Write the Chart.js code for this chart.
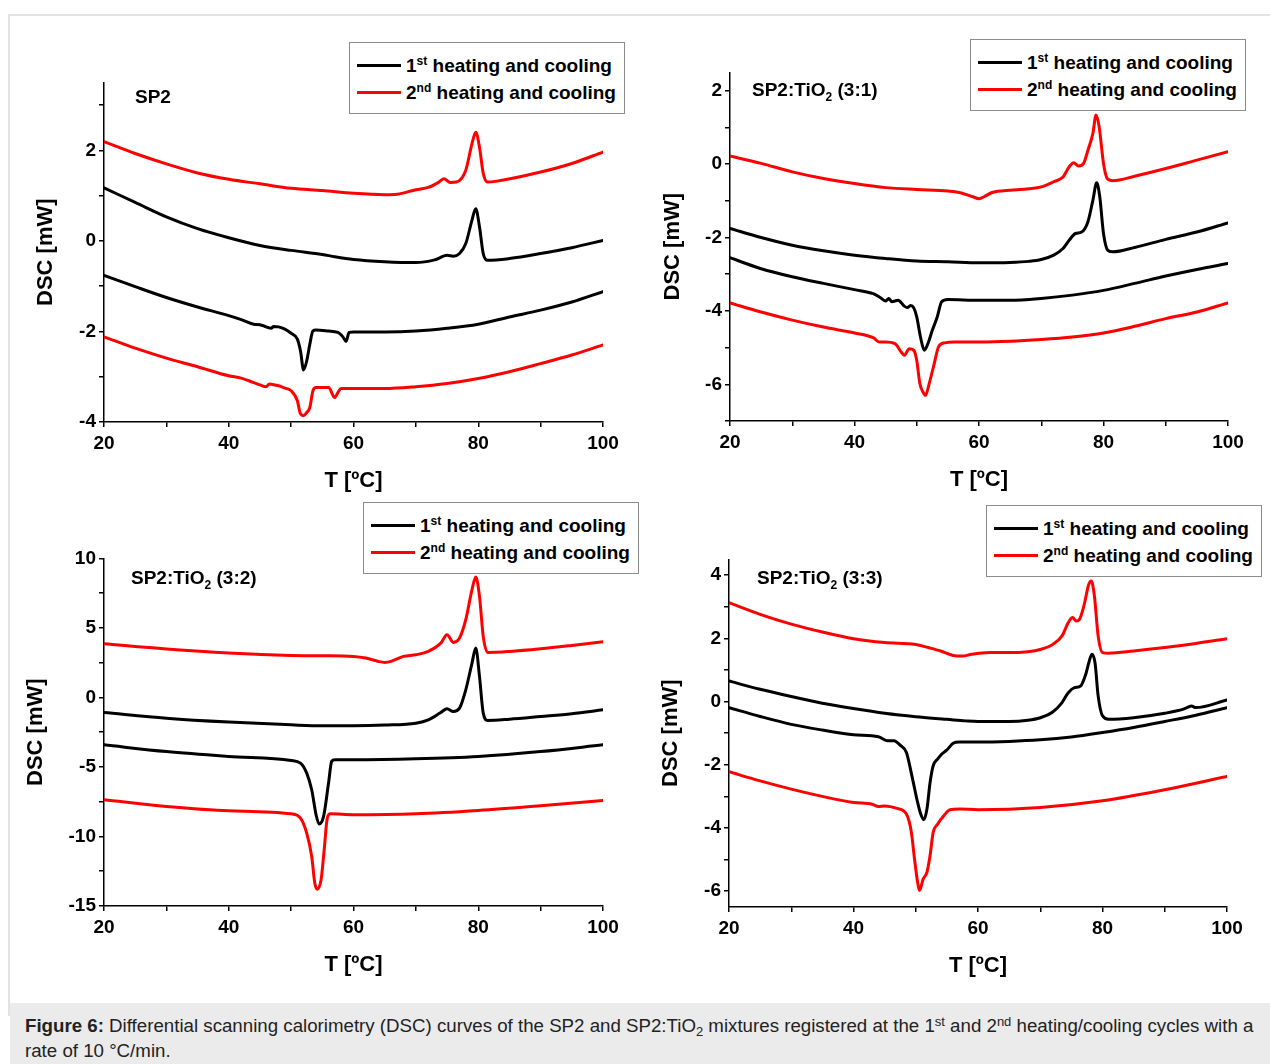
<!DOCTYPE html>
<html>
<head>
<meta charset="utf-8">
<script src="https://cdn.jsdelivr.net/npm/chart.js@4.4.1/dist/chart.umd.min.js"></script>
<style>
html,body{margin:0;padding:0;background:#fff;}
body{width:1270px;height:1064px;position:relative;overflow:hidden;font-family:"Liberation Sans",Arial,sans-serif;color:#000;}
#frame{position:absolute;left:8px;top:14px;width:1280px;height:1000px;border-top:2px solid #e2e2e2;border-left:2px solid #e2e2e2;}
#caption{position:absolute;left:10px;top:1003px;width:1260px;height:61px;background:#ebebeb;}
#captext{position:absolute;left:15px;top:11px;font-size:18.7px;line-height:23px;color:#222;white-space:nowrap;}
canvas{position:absolute;}
.legend{position:absolute;border:1px solid #8c8c8c;background:#fff;box-sizing:border-box;width:276px;height:72px;z-index:5;}
.row{position:absolute;left:7px;height:26px;line-height:26px;font-weight:bold;font-size:19px;white-space:nowrap;}
.sw{display:inline-block;width:44px;height:3px;vertical-align:middle;margin-right:5px;position:relative;top:-1px;}
.sup{font-size:12px;position:relative;top:-7px;}
.sub{font-size:12px;position:relative;top:5px;}
.ptitle{position:absolute;font-weight:bold;font-size:19px;line-height:22px;white-space:nowrap;z-index:5;}
</style>
</head>
<body>
<div id="frame"></div>

<canvas id="c1" width="604" height="430" style="left:29px;top:68px;width:604px;height:430px;"></canvas>
<canvas id="c2" width="602" height="439" style="left:656px;top:58px;width:602px;height:439px;"></canvas>
<canvas id="c3" width="614" height="438" style="left:19px;top:544px;width:614px;height:438px;"></canvas>
<canvas id="c4" width="603" height="438" style="left:654px;top:545px;width:603px;height:438px;"></canvas>

<div class="ptitle" style="left:135px;top:86px;">SP2</div>
<div class="ptitle" style="left:752px;top:79px;">SP2:TiO<span class="sub">2</span> (3:1)</div>
<div class="ptitle" style="left:131px;top:567px;">SP2:TiO<span class="sub">2</span> (3:2)</div>
<div class="ptitle" style="left:757px;top:567px;">SP2:TiO<span class="sub">2</span> (3:3)</div>

<div class="legend" style="left:349px;top:42px;">
  <div class="row" style="top:10px;"><span class="sw" style="background:#000"></span>1<span class="sup">st</span> heating and cooling</div>
  <div class="row" style="top:37px;"><span class="sw" style="background:#ff0000"></span>2<span class="sup">nd</span> heating and cooling</div>
</div>
<div class="legend" style="left:970px;top:39px;">
  <div class="row" style="top:10px;"><span class="sw" style="background:#000"></span>1<span class="sup">st</span> heating and cooling</div>
  <div class="row" style="top:37px;"><span class="sw" style="background:#ff0000"></span>2<span class="sup">nd</span> heating and cooling</div>
</div>
<div class="legend" style="left:363px;top:502px;">
  <div class="row" style="top:10px;"><span class="sw" style="background:#000"></span>1<span class="sup">st</span> heating and cooling</div>
  <div class="row" style="top:37px;"><span class="sw" style="background:#ff0000"></span>2<span class="sup">nd</span> heating and cooling</div>
</div>
<div class="legend" style="left:986px;top:505px;">
  <div class="row" style="top:10px;"><span class="sw" style="background:#000"></span>1<span class="sup">st</span> heating and cooling</div>
  <div class="row" style="top:37px;"><span class="sw" style="background:#ff0000"></span>2<span class="sup">nd</span> heating and cooling</div>
</div>

<div id="caption"><div id="captext"><b>Figure 6:</b> Differential scanning calorimetry (DSC) curves of the SP2 and SP2:TiO<span style="font-size:13px;position:relative;top:4px;">2</span> mixtures registered at the 1<span style="font-size:13px;position:relative;top:-6px;">st</span> and 2<span style="font-size:13px;position:relative;top:-6px;">nd</span> heating/cooling cycles with a<br>rate of 10 °C/min.</div></div>

<script>
// ---------- Tick labels ----------
const xTicks = [20, 30, 40, 50, 60, 70, 80, 90, 100];
const xMajor = [20, 40, 60, 80, 100];
const p1Ticks = [-4, -3, -2, -1, 0, 1, 2, 3];
const p1Major = [-4, -2, 0, 2];
const p2Ticks = [-7, -6, -5, -4, -3, -2, -1, 0, 1, 2];
const p2Major = [-6, -4, -2, 0, 2];
const p3Ticks = [-15, -12.5, -10, -7.5, -5, -2.5, 0, 2.5, 5, 7.5, 10];
const p3Major = [-15, -10, -5, 0, 5, 10];
const p4Ticks = [-6, -5, -4, -3, -2, -1, 0, 1, 2, 3, 4];
const p4Major = [-6, -4, -2, 0, 2, 4];

const seriesNames = ["1st heating and cooling", "2nd heating and cooling"];

// ---------- Panel 1: SP2 ----------
const p1_heat1_T = [20,25,30,35,40,45,50,55,57,60,65,70,73,75,76,77,78,79,79.6,80.2,80.8,81.5,85,90,95,100];
const p1_heat1_Y = [1.17,0.85,0.53,0.27,0.07,-0.10,-0.21,-0.30,-0.35,-0.41,-0.46,-0.48,-0.42,-0.32,-0.34,-0.28,-0.06,0.46,0.71,0.31,-0.28,-0.43,-0.39,-0.28,-0.15,0.01];
const p1_heat2_T = [20,25,30,35,40,45,50,55,60,65,67,70,72,73.5,74.5,75.5,76.5,78,79,79.6,80.2,80.8,81.5,83,90,95,100];
const p1_heat2_Y = [2.19,1.93,1.70,1.50,1.36,1.26,1.16,1.11,1.05,1.02,1.03,1.13,1.18,1.28,1.37,1.29,1.30,1.56,2.15,2.40,2.07,1.49,1.30,1.32,1.52,1.71,1.96];
const p1_cool1_T = [20,25,30,35,40,42,44,45,46,46.8,47.2,48,49,50,51,51.5,52,52.5,53,53.5,54,56,57.5,58.3,58.8,59.3,60,65,70,75,80,85,90,95,100];
const p1_cool1_Y = [-0.76,-1.01,-1.25,-1.46,-1.65,-1.74,-1.84,-1.85,-1.90,-1.93,-1.89,-1.90,-1.95,-2.04,-2.17,-2.43,-2.85,-2.65,-2.28,-1.99,-1.97,-1.99,-2.02,-2.12,-2.22,-2.02,-2.01,-2.01,-1.99,-1.93,-1.84,-1.68,-1.53,-1.35,-1.12];
const p1_cool2_T = [20,25,30,35,40,42,44,45,46,46.5,47,48,49,50,51,51.5,52,52.5,53,53.5,54,56,57,57.5,58,60,65,70,75,80,85,90,95,100];
const p1_cool2_Y = [-2.12,-2.37,-2.59,-2.78,-2.98,-3.03,-3.13,-3.18,-3.22,-3.16,-3.17,-3.20,-3.25,-3.31,-3.53,-3.82,-3.86,-3.79,-3.68,-3.31,-3.24,-3.24,-3.46,-3.35,-3.26,-3.26,-3.26,-3.22,-3.15,-3.04,-2.89,-2.71,-2.52,-2.30];

// ---------- Panel 2: SP2:TiO2 (3:1) ----------
const p2_heat1_T = [20,25,30,35,40,45,50,55,60,65,68,70,72,73.5,74.5,75.5,76.5,77.5,78.3,78.9,79.4,80,80.7,81.5,85,90,95,100];
const p2_heat1_Y = [-1.75,-2.00,-2.21,-2.36,-2.48,-2.57,-2.64,-2.66,-2.69,-2.68,-2.65,-2.60,-2.48,-2.30,-2.07,-1.89,-1.85,-1.57,-0.98,-0.51,-0.89,-1.89,-2.35,-2.39,-2.27,-2.05,-1.85,-1.60];
const p2_heat2_T = [20,25,30,35,40,45,50,55,57,59,60,61,62,63,65,68,70,72,73.5,74.5,75.2,76,76.8,77.5,78.3,78.8,79.3,80,80.6,81.5,85,90,95,100];
const p2_heat2_Y = [0.22,0.02,-0.21,-0.39,-0.53,-0.64,-0.69,-0.73,-0.78,-0.89,-0.94,-0.87,-0.78,-0.74,-0.71,-0.67,-0.62,-0.48,-0.35,-0.07,0.04,-0.05,0.02,0.38,0.84,1.34,1.02,0.02,-0.39,-0.45,-0.33,-0.12,0.11,0.34];
const p2_cool1_T = [20,25,30,35,40,43,44,45,45.5,46,47,48,48.5,49,49.5,50,50.6,51.2,51.8,52.5,53.3,54,55,60,65,70,75,80,85,90,95,100];
const p2_cool1_Y = [-2.55,-2.85,-3.07,-3.25,-3.42,-3.53,-3.62,-3.73,-3.66,-3.75,-3.71,-3.87,-3.91,-3.85,-3.91,-4.16,-4.71,-5.07,-4.89,-4.53,-4.16,-3.75,-3.69,-3.71,-3.71,-3.66,-3.57,-3.44,-3.25,-3.05,-2.87,-2.71];
const p2_cool2_T = [20,25,30,35,40,43,44,45,46.5,47.5,48,48.8,49.5,50,50.5,51,51.4,52,52.8,53.5,54.5,56,60,65,70,75,80,85,90,95,100];
const p2_cool2_Y = [-3.78,-4.03,-4.25,-4.44,-4.60,-4.73,-4.85,-4.85,-4.89,-5.12,-5.21,-5.03,-5.07,-5.35,-5.98,-6.21,-6.30,-5.98,-5.44,-4.98,-4.87,-4.85,-4.85,-4.83,-4.78,-4.71,-4.60,-4.42,-4.21,-4.03,-3.78];

// ---------- Panel 3: SP2:TiO2 (3:2) ----------
const p3_heat1_T = [20,30,40,50,55,60,65,70,72,74,75,76,77,78,79,79.6,80.2,80.8,81.5,85,90,95,100];
const p3_heat1_Y = [-1.08,-1.49,-1.77,-1.97,-2.04,-2.04,-1.99,-1.85,-1.61,-1.08,-0.82,-1.01,-0.77,0.55,2.47,3.55,1.51,-1.13,-1.65,-1.56,-1.37,-1.17,-0.89];
const p3_heat2_T = [20,30,40,50,55,60,62,64,65,66,68,70,72,74,75,76,77,78,79,79.6,80.2,80.8,81.5,85,90,95,100];
const p3_heat2_Y = [3.86,3.48,3.19,3.02,3.00,2.95,2.83,2.59,2.52,2.59,2.95,3.07,3.31,3.91,4.51,3.96,4.27,5.59,7.75,8.66,7.27,4.39,3.24,3.31,3.50,3.74,4.00];
const p3_cool1_T = [20,30,40,50,51.5,52.5,53.3,54,54.5,55.2,56,56.5,57,60,70,80,90,100];
const p3_cool1_Y = [-3.41,-3.89,-4.24,-4.53,-4.72,-5.44,-6.64,-8.44,-9.11,-8.56,-6.16,-4.60,-4.48,-4.48,-4.41,-4.24,-3.89,-3.41];
const p3_cool2_T = [20,30,40,50,51.5,52.5,53.3,53.8,54.2,54.8,55.3,55.8,56.3,60,70,80,90,100];
const p3_cool2_Y = [-7.36,-7.84,-8.15,-8.37,-8.68,-9.76,-11.44,-13.36,-13.79,-13.12,-10.96,-8.68,-8.37,-8.44,-8.37,-8.13,-7.79,-7.41];

// ---------- Panel 4: SP2:TiO2 (3:3) ----------
const p4_heat1_T = [20,25,30,35,40,45,50,55,58,60,65,68,70,72,73.5,74.5,75.5,76.5,77.3,77.8,78.3,78.8,79.3,80,81,85,90,93,94.3,95,100];
const p4_heat1_Y = [0.65,0.39,0.16,-0.05,-0.22,-0.37,-0.48,-0.56,-0.61,-0.63,-0.63,-0.59,-0.51,-0.33,-0.03,0.28,0.44,0.50,0.86,1.23,1.50,1.23,0.18,-0.45,-0.56,-0.51,-0.37,-0.24,-0.14,-0.19,0.05];
const p4_heat2_T = [20,25,30,35,40,45,50,52,54,56,57.5,59,62,65,68,70,72,73.5,74.5,75.2,75.8,76.3,77,77.8,78.2,78.7,79.3,80,81,85,90,95,100];
const p4_heat2_Y = [3.13,2.76,2.45,2.20,1.99,1.87,1.81,1.71,1.60,1.46,1.44,1.50,1.55,1.55,1.58,1.65,1.81,2.08,2.50,2.66,2.55,2.60,3.02,3.71,3.82,3.34,2.08,1.55,1.53,1.60,1.71,1.84,1.99];
const p4_cool1_T = [20,25,30,35,40,44,45.5,46.5,47.5,48.5,49.5,50.3,50.8,51.3,51.8,52.3,52.8,53.5,54.2,55,56,57,60,65,70,75,80,85,90,95,100];
const p4_cool1_Y = [-0.19,-0.47,-0.72,-0.90,-1.05,-1.11,-1.24,-1.24,-1.38,-1.61,-2.46,-3.19,-3.56,-3.74,-3.40,-2.56,-2.03,-1.82,-1.66,-1.53,-1.32,-1.28,-1.28,-1.26,-1.21,-1.12,-0.98,-0.82,-0.63,-0.43,-0.19];
const p4_cool2_T = [20,25,30,35,40,43,44,45,47,48.5,49.3,49.8,50.3,50.6,51.2,51.8,52.3,52.8,53.5,54.5,55.5,57,60,70,80,90,100];
const p4_cool2_Y = [-2.22,-2.51,-2.77,-3.00,-3.19,-3.25,-3.32,-3.30,-3.38,-3.56,-4.14,-4.98,-5.72,-5.98,-5.61,-5.40,-4.87,-4.14,-3.88,-3.61,-3.42,-3.40,-3.42,-3.35,-3.14,-2.79,-2.37];

// ---------- Chart building ----------
Chart.defaults.font.family = '"Liberation Sans", Arial, sans-serif';
Chart.defaults.color = '#000';

const BLACK = '#000000';
const RED = '#ff0000';

function pts(T, Y) { return T.map((t, i) => ({ x: t, y: Y[i] })); }
function ds(label, T, Y, color) {
  return {
    label: label, data: pts(T, Y), borderColor: color, backgroundColor: color,
    borderWidth: 3, pointRadius: 0, fill: false,
    cubicInterpolationMode: 'monotone', borderJoinStyle: 'round', borderCapStyle: 'round'
  };
}

function makePanel(id, yMin, yMax, yTicks, yMajor, yWidth, curves) {
  const tickFont = { size: 19, weight: 'bold' };
  const titleFont = { size: 22, weight: 'bold' };
  new Chart(document.getElementById(id), {
    type: 'line',
    data: { datasets: curves },
    options: {
      responsive: false, animation: false, devicePixelRatio: 1,
      layout: { padding: { left: 0, top: 14, right: 30, bottom: 0 } },
      plugins: { legend: { display: false }, tooltip: { enabled: false } },
      scales: {
        x: {
          type: 'linear', min: 20, max: 100,
          afterBuildTicks: s => { s.ticks = xTicks.map(v => ({ value: v })); },
          afterFit: s => { s.height = 76; },
          ticks: { autoSkip: false, maxRotation: 0, padding: 5, font: tickFont, color: '#000',
                   callback: v => xMajor.includes(v) ? String(v) : '' },
          grid: { drawOnChartArea: false, drawTicks: true, tickLength: 5, color: '#000', lineWidth: 1.5 },
          border: { display: true, color: '#000', width: 1.5 },
          title: { display: true, text: 'T [ºC]', font: titleFont, color: '#000', padding: { top: 4, bottom: 4 } }
        },
        y: {
          type: 'linear', min: yMin, max: yMax,
          afterBuildTicks: s => { s.ticks = yTicks.map(v => ({ value: v })); },
          afterFit: s => { s.width = yWidth; },
          ticks: { autoSkip: false, padding: 3, font: tickFont, color: '#000',
                   callback: v => yMajor.includes(v) ? String(v) : '' },
          grid: { drawOnChartArea: false, drawTicks: true, tickLength: 5, color: '#000', lineWidth: 1.5 },
          border: { display: true, color: '#000', width: 1.5 },
          title: { display: true, text: 'DSC [mW]', font: titleFont, color: '#000', padding: { top: 4, bottom: 4 } }
        }
      }
    }
  });
}

makePanel('c1', -4, 3.5, p1Ticks, p1Major, 75, [
  ds(seriesNames[0] + ' (heating)', p1_heat1_T, p1_heat1_Y, BLACK),
  ds(seriesNames[0] + ' (cooling)', p1_cool1_T, p1_cool1_Y, BLACK),
  ds(seriesNames[1] + ' (heating)', p1_heat2_T, p1_heat2_Y, RED),
  ds(seriesNames[1] + ' (cooling)', p1_cool2_T, p1_cool2_Y, RED)
]);
makePanel('c2', -7, 2.5, p2Ticks, p2Major, 74, [
  ds(seriesNames[0] + ' (heating)', p2_heat1_T, p2_heat1_Y, BLACK),
  ds(seriesNames[0] + ' (cooling)', p2_cool1_T, p2_cool1_Y, BLACK),
  ds(seriesNames[1] + ' (heating)', p2_heat2_T, p2_heat2_Y, RED),
  ds(seriesNames[1] + ' (cooling)', p2_cool2_T, p2_cool2_Y, RED)
]);
makePanel('c3', -15, 10, p3Ticks, p3Major, 85, [
  ds(seriesNames[0] + ' (heating)', p3_heat1_T, p3_heat1_Y, BLACK),
  ds(seriesNames[0] + ' (cooling)', p3_cool1_T, p3_cool1_Y, BLACK),
  ds(seriesNames[1] + ' (heating)', p3_heat2_T, p3_heat2_Y, RED),
  ds(seriesNames[1] + ' (cooling)', p3_cool2_T, p3_cool2_Y, RED)
]);
makePanel('c4', -6.5, 4.5, p4Ticks, p4Major, 75, [
  ds(seriesNames[0] + ' (heating)', p4_heat1_T, p4_heat1_Y, BLACK),
  ds(seriesNames[0] + ' (cooling)', p4_cool1_T, p4_cool1_Y, BLACK),
  ds(seriesNames[1] + ' (heating)', p4_heat2_T, p4_heat2_Y, RED),
  ds(seriesNames[1] + ' (cooling)', p4_cool2_T, p4_cool2_Y, RED)
]);
</script>
</body>
</html>
